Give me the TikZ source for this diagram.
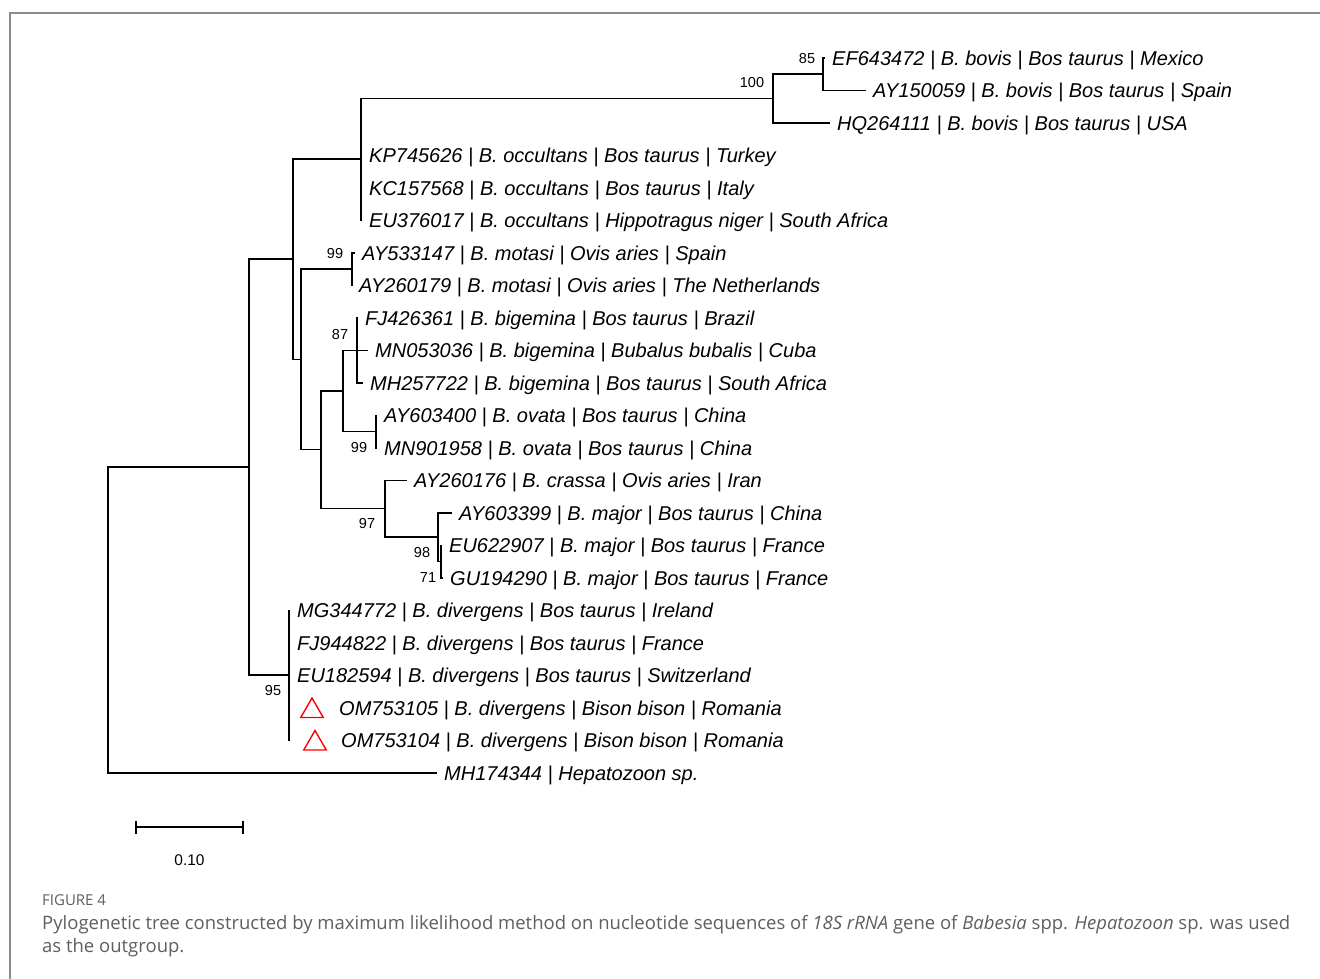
\documentclass[tikz,border=0pt]{standalone}
\usepackage{fontspec}
\newfontfamily\arialf{Liberation Sans}
\newfontfamily\capf{Open Sans}
\usetikzlibrary{shapes.geometric,arrows.meta}
\definecolor{framegray}{RGB}{140,140,140}
\definecolor{capgray}{RGB}{95,95,95}
\tikzset{
  br/.style={line width=1.6pt, black},
  leaf/.style={anchor=west, inner xsep=7pt, inner ysep=0pt, text height=14.3pt, text depth=0pt,
    font=\arialf\itshape\fontsize{20}{22}\selectfont},
  bs/.style={inner sep=0pt, font=\arialf\fontsize{14.5}{16}\selectfont},
  tri/.style={regular polygon, regular polygon sides=3, draw=red, line width=1.4pt, minimum size=26pt, inner sep=0pt},
  captext/.style={anchor=west, inner sep=0pt, text height=13pt, text depth=4pt, text=capgray}
}
\begin{document}
\begin{tikzpicture}[x=1pt,y=-1pt]
\useasboundingbox (0,0) rectangle (1320,979);
\fill[white] (0,0) rectangle (1320,979);
% frame
\draw[framegray, line width=2pt] (10,979) -- (10,13) -- (1320,13);

% internal nodes
\coordinate (root) at (108,620);
\coordinate (n249) at (249,467);
\coordinate (n293) at (293,259);
\coordinate (n361) at (361,159);
\coordinate (n773) at (773,98.5);
\coordinate (n823) at (823,74);
\coordinate (n301) at (301,359.5);
\coordinate (n352) at (352,269);
\coordinate (n321) at (321,449.5);
\coordinate (n343) at (343,391);
\coordinate (n357) at (357,350.5);
\coordinate (n376) at (376,431.5);
\coordinate (n385) at (385,508.5);
\coordinate (n438) at (438,537);
\coordinate (n441) at (441,561.5);
\coordinate (n289) at (289,675);

% leaves
\node[leaf] (l1) at (825,58) {EF643472 | B. bovis | Bos taurus | Mexico};
\node[leaf] (l2) at (866,90.5) {AY150059 | B. bovis | Bos taurus | Spain};
\node[leaf] (l3) at (830,123) {HQ264111 | B. bovis | Bos taurus | USA};
\node[leaf] (l4) at (362,155.5) {KP745626 | B. occultans | Bos taurus | Turkey};
\node[leaf] (l5) at (362,188) {KC157568 | B. occultans | Bos taurus | Italy};
\node[leaf] (l6) at (362,220.5) {EU376017 | B. occultans | Hippotragus niger | South Africa};
\node[leaf] (l7) at (355,253) {AY533147 | B. motasi | Ovis aries | Spain};
\node[leaf] (l8) at (352,285.5) {AY260179 | B. motasi | Ovis aries | The Netherlands};
\node[leaf] (l9) at (358,318) {FJ426361 | B. bigemina | Bos taurus | Brazil};
\node[leaf] (l10) at (368,350.5) {MN053036 | B. bigemina | Bubalus bubalis | Cuba};
\node[leaf] (l11) at (363,383) {MH257722 | B. bigemina | Bos taurus | South Africa};
\node[leaf] (l12) at (377,415.5) {AY603400 | B. ovata | Bos taurus | China};
\node[leaf] (l13) at (377,448) {MN901958 | B. ovata | Bos taurus | China};
\node[leaf] (l14) at (407,480.5) {AY260176 | B. crassa | Ovis aries | Iran};
\node[leaf] (l15) at (452,513) {AY603399 | B. major | Bos taurus | China};
\node[leaf] (l16) at (442,545.5) {EU622907 | B. major | Bos taurus | France};
\node[leaf] (l17) at (443,578) {GU194290 | B. major | Bos taurus | France};
\node[leaf] (l18) at (290,610.5) {MG344772 | B. divergens | Bos taurus | Ireland};
\node[leaf] (l19) at (290,643) {FJ944822 | B. divergens | Bos taurus | France};
\node[leaf] (l20) at (290,675.5) {EU182594 | B. divergens | Bos taurus | Switzerland};
\coordinate (e21) at (290,708);
\coordinate (e22) at (290,740.5);
\node[tri] (t21) at (312,711) {};
\node[tri] (t22) at (315,743.5) {};
\node[leaf] (l21) at (332,708) {OM753105 | B. divergens | Bison bison | Romania};
\node[leaf] (l22) at (334,740.5) {OM753104 | B. divergens | Bison bison | Romania};
\node[leaf] (l23) at (437,773) {MH174344 | Hepatozoon sp.};

% branches
\draw[br] (root) |- (n249);
\draw[br] (root) |- (l23.west);
\draw[br] (n249) |- (n293);
\draw[br] (n249) |- (n289);
\draw[br] (n293) |- (n361);
\draw[br] (n293) |- (n301);
\draw[br] (n361) |- (n773);
\draw[br] (n361) |- (l4.west);
\draw[br] (n361) |- (l5.west);
\draw[br] (n361) |- (l6.west);
\draw[br] (n773) |- (n823);
\draw[br] (n773) |- (l3.west);
\draw[br] (n823) |- (l1.west);
\draw[br] (n823) |- (l2.west);
\draw[br] (n301) |- (n352);
\draw[br] (n301) |- (n321);
\draw[br] (n352) |- (l7.west);
\draw[br] (n352) |- (l8.west);
\draw[br] (n321) |- (n343);
\draw[br] (n321) |- (n385);
\draw[br] (n343) |- (n357);
\draw[br] (n343) |- (n376);
\draw[br] (n357) |- (l9.west);
\draw[br] (n357) |- (l10.west);
\draw[br] (n357) |- (l11.west);
\draw[br] (n376) |- (l12.west);
\draw[br] (n376) |- (l13.west);
\draw[br] (n385) |- (l14.west);
\draw[br] (n385) |- (n438);
\draw[br] (n438) |- (l15.west);
\draw[br] (n438) |- (n441);
\draw[br] (n441) |- (l16.west);
\draw[br] (n441) |- (l17.west);
\draw[br] (n289) |- (l18.west);
\draw[br] (n289) |- (l19.west);
\draw[br] (n289) |- (l20.west);
\draw[br] (n289) |- (e21);
\draw[br] (n289) |- (e22);

% bootstrap values
\node[bs] (b100) at (752,83) {100};
\node[bs] (b85) at (807,59) {85};
\node[bs] (b99a) at (335,254) {99};
\node[bs] (b87) at (340,335) {87};
\node[bs] (b99b) at (359,448) {99};
\node[bs] (b97) at (367,524) {97};
\node[bs] (b98) at (422,553) {98};
\node[bs] (b71) at (428,578) {71};
\node[bs] (b95) at (273,691) {95};

% scale bar
\coordinate (sbL) at (135,827);
\coordinate (sbR) at (244,827);
\draw[line width=1.6pt, {Bar[width=13pt]}-{Bar[width=13pt]}] (sbL) -- (sbR);
\node[inner sep=0pt, font=\arialf\fontsize{15.5}{17}\selectfont] (sblab) at (189.5,860) {0.10};

% caption
\node[captext, font=\capf\fontsize{15}{17}\selectfont] (figlab) at (42,901) {FIGURE 4};
\node[captext, font=\capf\fontsize{18.5}{21}\selectfont] (cap1) at (42,925) {Pylogenetic tree constructed by maximum likelihood method on nucleotide sequences of \textit{18S rRNA} gene of \textit{Babesia} spp. \textit{Hepatozoon} sp. was used};
\node[captext, font=\capf\fontsize{18.5}{21}\selectfont] (cap2) at (42,948) {as the outgroup.};
\end{tikzpicture}
\end{document}
